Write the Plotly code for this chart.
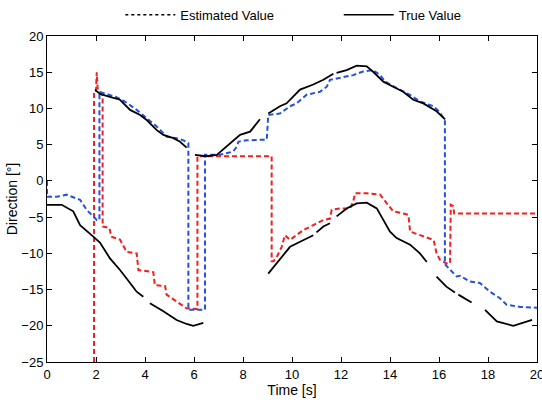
import plotly.graph_objects as go

# True values: upper target track (None marks a gap in the track)
true_upper_t = [1.96, 2.16, 2.57, 2.98, 3.39, 3.80, 4.07, 4.48, 4.75, 5.16, 5.43, 5.70, None,
                6.04, 6.50, 6.93, 7.47, 7.88, 8.29, 8.69, None,
                9.03, 9.51, 9.78, 10.05, 10.33, 10.87, 11.28, 11.69, None,
                11.82, 12.23, 12.64, 13.05, 13.30, 13.50, 13.73, 14.13, 14.54, 14.95, 15.36, 15.90, 16.25]
true_upper_v = [12.6, 12.0, 11.6, 11.2, 9.8, 9.1, 8.4, 7.0, 6.35, 5.9, 5.4, 4.6, None,
                3.6, 3.4, 3.6, 5.2, 6.35, 6.8, 8.5, None,
                9.3, 10.3, 10.7, 11.6, 12.6, 13.3, 13.95, 14.8, None,
                14.9, 15.3, 15.9, 15.8, 15.1, 14.4, 13.7, 13.0, 12.3, 11.2, 10.7, 9.6, 8.5]

# True values: lower target track
true_lower_t = [0.0, 0.6, 1.07, 1.35, 1.89, 2.16, 2.57, 2.98, 3.39, 3.66, 3.93, None,
                4.20, 4.75, 5.29, 5.70, 5.97, 6.38, None,
                9.03, 9.50, 9.92, 10.33, 10.87, None, 11.00, 11.28, 11.55, None,
                11.82, 12.23, 12.64, 13.05, 13.46, 13.73, 14.00, 14.27, 14.82, 15.22, 15.50, None,
                15.90, 16.30, 16.65, None, 16.79, 17.33, None,
                17.88, 18.36, 19.03, 19.65, 19.80]
true_lower_v = [-3.3, -3.3, -4.2, -6.1, -7.7, -8.5, -10.7, -12.3, -14.1, -15.3, -16.0, None,
                -16.9, -18.0, -19.2, -19.75, -20.0, -19.6, None,
                -12.8, -10.9, -9.1, -8.4, -7.5, None, -7.1, -6.3, -5.85, None,
                -4.9, -3.8, -3.1, -3.0, -3.8, -5.4, -7.0, -7.9, -8.8, -10.0, -11.2, None,
                -13.2, -14.6, -15.4, None, -15.7, -16.8, None,
                -17.8, -19.4, -20.0, -19.4, -19.2]

# Estimated values (blue)
est_blue_t = [0.0, 0.0, 0.40, 0.80, 1.10, 1.35, 1.62, 1.82, 2.03, 2.14, 2.14,
              2.43, 2.84, 3.18, 3.66, 4.07, 4.48, 4.89, 5.29, 5.57, 5.77, 5.77,
              6.45, 6.45, 7.06, 7.60, 7.74, 7.81, 8.15, 8.97, 9.03,
              9.50, 9.92, 10.19, 10.60, 11.14, 11.42, 11.55, 11.96, 12.50, 12.90, 13.30,
              13.60, 13.80, 14.27, 14.80, 15.20, 15.77, 16.00, 16.24, 16.24,
              16.45, 16.72, 16.86, 17.27, 17.67, 18.08, 18.49, 18.76, 19.31, 20.0]
est_blue_v = [0.0, -2.2, -2.2, -1.9, -2.3, -2.6, -4.0, -4.7, -5.4, -5.4, 12.3,
              12.0, 11.55, 10.95, 9.8, 8.65, 7.5, 6.1, 5.9, 5.6, 5.2, -17.8,
              -17.8, 3.6, 3.6, 4.05, 4.7, 5.4, 5.6, 5.7, 9.1,
              9.3, 10.3, 10.7, 11.9, 12.3, 13.0, 13.95, 14.2, 14.6, 15.1, 15.3,
              14.6, 13.7, 12.8, 11.9, 11.0, 10.3, 9.6, 8.4, -11.5,
              -12.3, -13.2, -13.1, -13.9, -14.1, -15.3, -16.2, -17.1, -17.4, -17.5]

# Estimated values (red)
est_red_t = [1.92, 1.92, 2.00, 2.03, 2.07, 2.27, 2.27, 2.55, 2.62, 2.98, 3.25, 3.66, 3.73,
             4.34, 4.40, 4.82, 4.88, 5.43, 5.70, 6.14, 6.14, 9.17, 9.17, 9.24, 9.38, 9.58,
             9.71, 9.92, 10.19, 10.46, 10.87, 11.28, 11.55, 11.62, 11.96, 12.37, 12.50,
             12.57, 13.05, 13.60, 13.87, 14.13, 14.54, 14.75, 14.82, 15.22, 15.78, 15.90,
             16.04, 16.30, 16.45, 16.48, 16.58, 16.62, 20.0]
est_red_v = [-25.0, 12.4, 12.4, 15.0, 12.5, 11.8, -6.3, -6.5, -7.7, -8.1, -9.8, -10.0, -12.3,
             -12.6, -14.4, -14.5, -15.7, -16.9, -17.6, -17.7, 3.4, 3.4, -11.1, -11.1, -10.5, -9.1,
             -7.5, -8.15, -7.5, -6.8, -6.1, -5.4, -5.2, -4.0, -3.8, -3.8, -2.85,
             -1.7, -1.7, -1.9, -3.1, -4.2, -4.5, -4.7, -7.0, -7.5, -8.15, -10.0,
             -10.9, -11.4, -11.4, -3.3, -3.5, -4.5, -4.5]

x_ticks = list(range(0, 21, 2))
y_ticks = list(range(-25, 21, 5))

FONT = "Liberation Sans, Arial, Helvetica, sans-serif"
BLUE = "rgb(35,80,225)"
RED = "rgb(245,30,30)"
DASH = "5px,3px"

fig = go.Figure()
fig.add_trace(go.Scatter(x=est_red_t, y=est_red_v, mode="lines", showlegend=False,
                         line=dict(color=RED, width=2, dash=DASH)))
fig.add_trace(go.Scatter(x=est_blue_t, y=est_blue_v, mode="lines", showlegend=False,
                         line=dict(color=BLUE, width=2, dash=DASH)))
fig.add_trace(go.Scatter(x=true_upper_t, y=true_upper_v, mode="lines", showlegend=False,
                         connectgaps=False, line=dict(color="black", width=1.8)))
fig.add_trace(go.Scatter(x=true_lower_t, y=true_lower_v, mode="lines", showlegend=False,
                         connectgaps=False, line=dict(color="black", width=1.8)))

# legend entries
fig.add_trace(go.Scatter(x=[None], y=[None], mode="lines", name="Estimated Value",
                         line=dict(color="black", width=1.5, dash="dot"), legend="legend"))
fig.add_trace(go.Scatter(x=[None], y=[None], mode="lines", name="True Value",
                         line=dict(color="black", width=1.5), legend="legend2"))

axis_common = dict(showgrid=False, zeroline=False, showline=True, linecolor="black",
                   linewidth=1, mirror="ticks", ticks="inside", ticklen=5, tickwidth=1,
                   tickcolor="black", automargin=False, ticklabeloverflow="allow",
                   tickfont=dict(family=FONT, size=13, color="black"))

fig.update_layout(
    width=542, height=402,
    margin=dict(l=47, r=5, t=36, b=40, autoexpand=False),
    paper_bgcolor="white", plot_bgcolor="white",
    font=dict(family=FONT, size=13, color="black"),
    xaxis=dict(range=[0, 20], tickvals=x_ticks,
               title=dict(text="Time [s]", standoff=2, font=dict(family=FONT, size=14)),
               **axis_common),
    yaxis=dict(range=[-25, 20], tickvals=y_ticks,
               title=dict(text="Direction [°]", standoff=0, font=dict(family=FONT, size=14)),
               **axis_common),
    legend=dict(orientation="h", xref="container", yref="container", x=0.222, y=0.963,
                xanchor="left", yanchor="middle",
                bgcolor="rgba(0,0,0,0)", font=dict(family=FONT, size=13), itemwidth=50),
    legend2=dict(orientation="h", xref="container", yref="container", x=0.625, y=0.963,
                 xanchor="left", yanchor="middle",
                 bgcolor="rgba(0,0,0,0)", font=dict(family=FONT, size=13), itemwidth=50),
)

fig.write_html("out.html", config={"displayModeBar": False},
               post_script="document.body.style.margin='0px';")
